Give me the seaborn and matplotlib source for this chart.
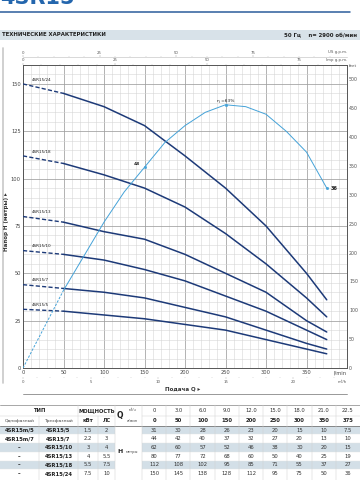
import numpy as np
import pandas as pd
import matplotlib
matplotlib.use('Agg')
import matplotlib.pyplot as plt
import seaborn as sns
from matplotlib.patches import Rectangle

# ---- данные (с графика и из таблицы) ----
q_lmin = [0, 50, 100, 150, 200, 250, 300, 350, 375]
q_m3h = ['0', '3.0', '6.0', '9.0', '12.0', '15.0', '18.0', '21.0', '22.5']

models_1ph = ['4SR15m/5', '4SR15m/7', '–', '–', '–', '–']
models_3ph = ['4SR15/5', '4SR15/7', '4SR15/10', '4SR15/13', '4SR15/18', '4SR15/24']
power_kw = ['1.5', '2.2', '3', '4', '5.5', '7.5']
power_hp = ['2', '3', '4', '5.5', '7.5', '10']

h_5 = [31, 30, 28, 26, 23, 20, 15, 10, 7.5]
h_7 = [44, 42, 40, 37, 32, 27, 20, 13, 10]
h_10 = [62, 60, 57, 52, 46, 38, 30, 20, 15]
h_13 = [80, 77, 72, 68, 60, 50, 40, 25, 19]
h_18 = [112, 108, 102, 95, 85, 71, 55, 37, 27]
h_24 = [150, 145, 138, 128, 112, 95, 75, 50, 36]
heads = [h_5, h_7, h_10, h_13, h_18, h_24]

# кривая КПД (положение на шкале напора)
eff_q = [0, 50, 75, 100, 125, 150, 175, 200, 225, 250, 275, 300, 325, 350, 375]
eff_h = [0, 41, 59, 77, 93, 106, 119, 128, 135, 139, 138, 134, 125, 114, 95]
eff_mark_q = [150, 250, 375]
eff_mark_h = [106, 139, 95]
eff_mark_lbl = ['48', 'η =63%', '36']

NAVY = '#1d3a78'
CYAN = '#44a2d8'
TXT = '#333333'

sns.set_style('white')
plt.rcParams['font.family'] = ['DejaVu Sans']

fig = plt.figure(figsize=(3.6, 4.8), dpi=100)

# фон в пикселях (заголовок, таблица)
bg = fig.add_axes([0, 0, 1, 1])
bg.set_xlim(0, 360)
bg.set_ylim(480, 0)
bg.axis('off')

bg.text(0, 4.0, '4SR15', fontsize=15, fontweight='bold', color='#2466ad', va='baseline')
bg.plot([0, 350], [12.3, 12.3], color='#2b5d9b', lw=1.1)
bg.add_patch(Rectangle((0, 30), 360, 9.5, color='#d8e2e9', lw=0))
bg.text(2, 34.8, 'ТЕХНИЧЕСКИЕ ХАРАКТЕРИСТИКИ', fontsize=3.9, fontweight='bold', color='#222', va='center')
bg.text(357, 34.8, '50 Гц    n= 2900 об/мин', fontsize=3.9, fontweight='bold', color='#222', va='center', ha='right')
bg.plot([3, 3], [48, 383], color='#c8c8c8', lw=1.2)
bg.plot([23, 347], [393.5, 393.5], color='#888888', lw=0.6)

bg.text(347, 52.5, 'US g.p.m.', fontsize=2.8, color='#555', ha='right', va='center')
bg.text(347, 60.5, 'Imp g.p.m.', fontsize=2.8, color='#555', ha='right', va='center')
bg.text(349, 66, 'feet', fontsize=3.0, color='#555', ha='left', va='center')
bg.text(347, 372.7, 'l/min', fontsize=3.7, color='#444', ha='right', va='center')
bg.text(347, 382, 'm³/h', fontsize=2.8, color='#555', ha='right', va='center')
bg.text(183, 389, 'Подача Q ▸', fontsize=4, fontweight='bold', color='#333', ha='center', va='center')
bg.text(7, 222, 'Напор H (метры) ▸', fontsize=4, fontweight='bold', color='#333', ha='center', va='center', rotation=90)

# ---- основной график ----
ax = fig.add_axes([23 / 360, 1 - 368 / 480, 324 / 360, 303 / 480])
ax.set_xlim(0, 400)
ax.set_ylim(0, 160)

rows = []
for name, h in zip(models_3ph, heads):
    for q, v in zip(q_lmin, h):
        rows.append({'model': name, 'Q': q, 'H': v})
df = pd.DataFrame(rows)

sns.lineplot(data=df[df.Q >= 50], x='Q', y='H', units='model', estimator=None,
             color=NAVY, lw=1.1, ax=ax, zorder=3)
sns.lineplot(data=df[df.Q <= 50], x='Q', y='H', units='model', estimator=None,
             color=NAVY, lw=1.0, linestyle=(0, (3, 1.6)), ax=ax, zorder=3)

for name, h in zip(models_3ph, heads):
    ax.text(11, h[0] + 1.2, name, fontsize=3.0, color='#222', va='bottom', ha='left')

eff = pd.DataFrame({'Q': eff_q, 'H': eff_h})
sns.lineplot(data=eff[eff.Q >= 50], x='Q', y='H', color=CYAN, lw=0.7, ax=ax, zorder=4)
sns.lineplot(data=eff[eff.Q <= 50], x='Q', y='H', color=CYAN, lw=0.7,
             linestyle=(0, (2.5, 1.5)), ax=ax, zorder=4)
sns.scatterplot(x=eff_mark_q, y=eff_mark_h, color=CYAN, s=4, edgecolor=CYAN, ax=ax, zorder=5)
ax.annotate(eff_mark_lbl[0], (eff_mark_q[0], eff_mark_h[0]), xytext=(-3, 1), textcoords='offset points',
            fontsize=3.2, fontweight='bold', color='#222', ha='right', va='bottom')
ax.annotate(eff_mark_lbl[1], (eff_mark_q[1], eff_mark_h[1]), xytext=(0, 1.5), textcoords='offset points',
            fontsize=3.2, color='#222', ha='center', va='bottom')
ax.annotate(eff_mark_lbl[2], (eff_mark_q[2], eff_mark_h[2]), xytext=(2.5, 0), textcoords='offset points',
            fontsize=3.6, fontweight='bold', color='#222', ha='left', va='center')

ax.set_xlabel('')
ax.set_ylabel('')
ax.set_xticks(np.arange(0, 401, 50))
ax.set_xticklabels([str(v) for v in range(0, 351, 50)] + [''])
ax.set_xticks(np.arange(0, 401, 10), minor=True)
ax.set_yticks(np.arange(0, 161, 25))
ax.set_yticks(np.arange(0, 161, 5), minor=True)
ax.grid(which='major', color='#9e9e9e', lw=0.55)
ax.grid(which='minor', color='#d4d4d4', lw=0.38)
ax.set_axisbelow(True)
ax.tick_params(which='both', length=0, labelsize=3.7, labelcolor='#444', pad=1.6)
for s in ax.spines.values():
    s.set_color('#555555')
    s.set_linewidth(0.7)

# футы справа
ft = ax.secondary_yaxis('right', functions=(lambda m: m * 3.28084, lambda f: f / 3.28084))
ft.set_yticks(np.arange(0, 501, 50))
ft.tick_params(length=0, labelsize=3.4, labelcolor='#555', pad=1.5)
ft.spines['right'].set_visible(False)

# м3/ч снизу
m3 = ax.secondary_xaxis(-0.03, functions=(lambda q: q * 0.06, lambda m: m / 0.06))
m3.set_xticks([0, 5, 10, 15, 20])
m3.set_xticks(np.arange(0, 24, 1), minor=True)
m3.tick_params(which='major', length=1.2, width=0.3, color='#aaa', labelsize=2.8, labelcolor='#555', pad=0.8)
m3.tick_params(which='minor', length=0.8, width=0.3, color='#bbb')
m3.spines['bottom'].set_visible(False)

# галлоны сверху
us = ax.secondary_xaxis(1.0264, functions=(lambda q: q / 3.78541, lambda g: g * 3.78541))
us.set_xticks([0, 25, 50, 75])
us.set_xticks(np.arange(0, 101, 5), minor=True)
us.tick_params(which='major', length=1.2, width=0.3, color='#999', labelsize=2.8, labelcolor='#555', pad=0.6)
us.tick_params(which='minor', length=0.8, width=0.3, color='#bbb')
us.spines['top'].set_color('#bbbbbb')
us.spines['top'].set_linewidth(0.4)

imp = ax.secondary_xaxis(1.0, functions=(lambda q: q / 4.54609, lambda g: g * 4.54609))
imp.set_xticks([0, 25, 50, 75])
imp.set_xticks(np.arange(0, 86, 5), minor=True)
imp.tick_params(which='major', length=1.2, width=0.3, color='#999', labelsize=2.8, labelcolor='#555', pad=0.6)
imp.tick_params(which='minor', length=0.8, width=0.3, color='#bbb')
imp.spines['top'].set_visible(False)

# ---- таблица ----
t_top = 405
hdr1 = 415.7
hdr2 = 425.7
row_h = 8.7
val_edges = np.linspace(142, 360, len(q_lmin) + 1)
val_cent = (val_edges[:-1] + val_edges[1:]) / 2
SHADE = '#d3dfe7'
fs = 3.8

for i in range(len(models_3ph)):
    y0 = hdr2 + i * row_h
    if i % 2 == 0:
        bg.add_patch(Rectangle((0, y0), 115, row_h, color=SHADE, lw=0))
        bg.add_patch(Rectangle((142, y0), 218, row_h, color=SHADE, lw=0))
    yc = y0 + row_h / 2
    bg.text(19.5, yc, models_1ph[i], fontsize=fs, fontweight='bold', color='#222', ha='center', va='center')
    bg.text(58.5, yc, models_3ph[i], fontsize=fs, fontweight='bold', color='#222', ha='center', va='center')
    bg.text(88, yc, power_kw[i], fontsize=fs, color=TXT, ha='center', va='center')
    bg.text(106.5, yc, power_hp[i], fontsize=fs, color=TXT, ha='center', va='center')
    for xc, v in zip(val_cent, heads[i]):
        bg.text(xc, yc, f'{v:g}', fontsize=fs, color=TXT, ha='center', va='center')
    if i > 0:
        bg.plot([0, 115], [y0, y0], color='#e6e6e6', lw=0.3)
        bg.plot([142, 360], [y0, y0], color='#e6e6e6', lw=0.3)

bg.text(39, (t_top + hdr1) / 2, 'ТИП', fontsize=fs, fontweight='bold', color='#222', ha='center', va='center')
bg.text(96.5, (t_top + hdr1) / 2, 'МОЩНОСТЬ', fontsize=fs, fontweight='bold', color='#222', ha='center', va='center')
bg.text(19.5, (hdr1 + hdr2) / 2, 'Однофазный', fontsize=3.2, color='#444', ha='center', va='center')
bg.text(58.5, (hdr1 + hdr2) / 2, 'Трехфазный', fontsize=3.2, color='#444', ha='center', va='center')
bg.text(88, (hdr1 + hdr2) / 2, 'кВт', fontsize=fs, fontweight='bold', color='#222', ha='center', va='center')
bg.text(106.5, (hdr1 + hdr2) / 2, 'ЛС', fontsize=fs, fontweight='bold', color='#222', ha='center', va='center')
bg.text(120, hdr1, 'Q', fontsize=5.5, fontweight='bold', color='#222', ha='center', va='center')
bg.text(132, (t_top + hdr1) / 2, 'м³/ч', fontsize=2.6, color='#444', ha='center', va='center')
bg.text(132, (hdr1 + hdr2) / 2, 'л/мин', fontsize=2.6, color='#444', ha='center', va='center')
for xc, m, q in zip(val_cent, q_m3h, q_lmin):
    bg.text(xc, (t_top + hdr1) / 2, m, fontsize=fs, color=TXT, ha='center', va='center')
    bg.text(xc, (hdr1 + hdr2) / 2, str(q), fontsize=fs, fontweight='bold', color='#222', ha='center', va='center')
h_mid = hdr2 + 3 * row_h
bg.text(120, h_mid, 'H', fontsize=4.5, fontweight='bold', color='#222', ha='center', va='center')
bg.text(132, h_mid, 'метры', fontsize=2.6, color='#444', ha='center', va='center')

bg.plot([0, 360], [t_top, t_top], color='#999999', lw=0.6)
bg.plot([0, 360], [hdr2, hdr2], color='#777777', lw=0.6)
bg.plot([0, 115], [hdr1, hdr1], color='#cccccc', lw=0.3)
bg.plot([142, 360], [hdr1, hdr1], color='#cccccc', lw=0.3)
for x in [78, 115, 142] + list(val_edges[1:-1]):
    bg.plot([x, x], [t_top, 480], color='#d0d0d0', lw=0.35)
for x in [39, 98]:
    bg.plot([x, x], [hdr1, 480], color='#d0d0d0', lw=0.35)

fig.savefig('out.png', dpi=100)
